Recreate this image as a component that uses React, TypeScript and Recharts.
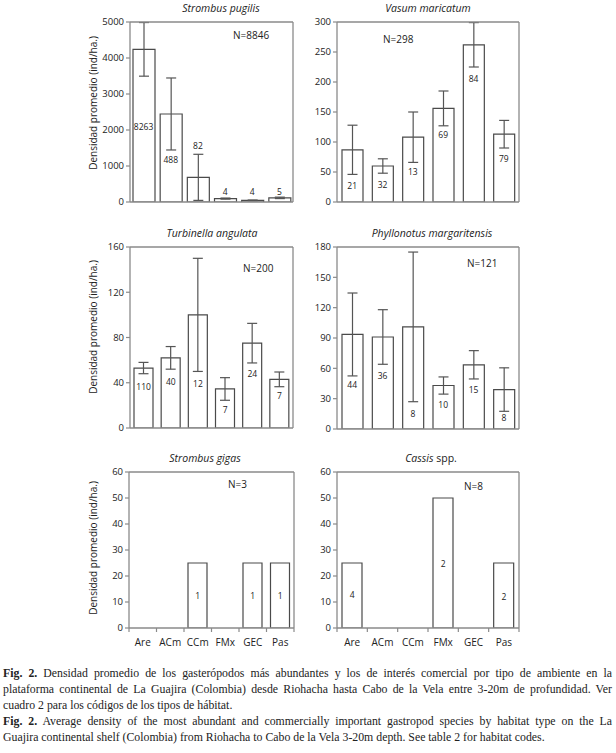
import React from 'react'
import { ComposedChart, Bar, ErrorBar, Scatter, XAxis, YAxis } from 'recharts'

const habitats = ['Are', 'ACm', 'CCm', 'FMx', 'GEC', 'Pas']

// Strombus pugilis
const pugilisMean = [4240, 2445, 685, 95, 45, 115]
const pugilisErr = [745, 1000, 640, 15, 10, 20]
const pugilisN = [8263, 488, 82, 4, 4, 5]
const pugilisLabelAt = [2085, 1190, 1560, 290, 290, 290]
const pugilisTicks = [0, 1000, 2000, 3000, 4000, 5000]

// Vasum maricatum
const vasumMean = [87, 60, 108, 156, 262, 113]
const vasumErr = [41, 12, 42, 29, 37, 23]
const vasumN = [21, 32, 13, 69, 84, 79]
const vasumLabelAt = [27, 30, 51, 113, 206, 73]
const vasumTicks = [0, 50, 100, 150, 200, 250, 300]

// Turbinella angulata
const turbinellaMean = [53, 62, 100, 34.5, 75, 43]
const turbinellaErr = [5, 10, 50, 10, 17.5, 6.5]
const turbinellaN = [110, 40, 12, 7, 24, 7]
const turbinellaLabelAt = [37, 41, 39, 16, 48.5, 29]
const turbinellaTicks = [0, 40, 80, 120, 160]

// Phyllonotus margaritensis
const phyllonotusMean = [93.5, 91, 101, 43, 63.5, 39]
const phyllonotusErr = [41, 27, 74, 8.5, 14, 21.5]
const phyllonotusN = [44, 36, 8, 10, 15, 8]
const phyllonotusLabelAt = [44, 53, 15.5, 24.5, 39, 11.5]
const phyllonotusTicks = [0, 30, 60, 90, 120, 150, 180]

// Strombus gigas
const gigasMean = [null, null, 25, null, 25, 25]
const gigasN = [null, null, 1, null, 1, 1]
const gigasLabelAt = [null, null, 12.4, null, 12.4, 12.4]

// Cassis spp.
const cassisMean = [25, null, null, 50, null, 25]
const cassisN = [4, null, null, 2, null, 2]
const cassisLabelAt = [13, null, null, 24.8, null, 12.2]

const sixtyTicks = [0, 10, 20, 30, 40, 50, 60]

const frame = '#8a8a8a'
const barLine = '#4a4a4a'
const sans = '"Open Sans", "Liberation Sans", sans-serif'

type Row = { cat: string; mean: number | null; err?: number; n: number | null; labelAt: number | null }

function buildRows(mean: (number | null)[], n: (number | null)[], labelAt: (number | null)[], err?: number[]): Row[] {
  return habitats.map((cat, i) => ({ cat, mean: mean[i], err: err ? err[i] : undefined, n: n[i], labelAt: labelAt[i] }))
}

function CountLabel(props: any) {
  const { cx, cy, payload } = props
  if (payload == null || payload.n == null || !isFinite(cy)) return <g />
  return (
    <text x={cx} y={cy} textAnchor="middle" dominantBaseline="central" fontSize={8.5} fill="#222" fontFamily={sans}>
      {payload.n}
    </text>
  )
}

function HabitatTick(props: any) {
  const { x, y, payload, index, band } = props
  const last = index === habitats.length - 1
  return (
    <g>
      <line x1={x - band / 2} x2={x - band / 2} y1={y} y2={y + 4} stroke={frame} strokeWidth={1.2} />
      {last && <line x1={x + band / 2} x2={x + band / 2} y1={y} y2={y + 4} stroke={frame} strokeWidth={1.2} />}
      <text x={x} y={y + 14} textAnchor="middle" dominantBaseline="central" fontSize={10} fill="#222" fontFamily={sans}>
        {payload.value}
      </text>
    </g>
  )
}

interface PanelProps {
  rows: Row[]
  max: number
  ticks: number[]
  plot: { x: number; y: number; w: number; h: number }
  barSize: number
  showX?: boolean
  hasErr?: boolean
}

function Panel({ rows, max, ticks, plot, barSize, showX, hasErr }: PanelProps) {
  const yw = 40
  const m = 5
  const th = 1
  const rw = 1
  const bh = showX ? 22 : 1
  const left = plot.x - yw
  const top = plot.y - m - th
  const width = yw + plot.w + rw + m
  const height = m + th + plot.h + bh + m
  const band = plot.w / habitats.length

  return (
    <div style={{ position: 'absolute', left, top, width, height }}>
      <ComposedChart width={width} height={height} data={rows} margin={{ top: m, right: m, bottom: m, left: 0 }}>
        <XAxis
          dataKey="cat"
          height={bh}
          axisLine={{ stroke: frame, strokeWidth: 1.3 }}
          tickLine={false}
          tickSize={0}
          tickMargin={0}
          interval={0}
          tick={showX ? (p: any) => <HabitatTick {...p} band={band} /> : false}
        />
        <XAxis xAxisId="t" orientation="top" dataKey="cat" height={th} tick={false} tickLine={false} axisLine={{ stroke: frame, strokeWidth: 1.3 }} />
        <YAxis
          domain={[0, max]}
          ticks={ticks}
          interval={0}
          allowDataOverflow
          width={yw}
          tickSize={4}
          tickMargin={2}
          axisLine={{ stroke: frame, strokeWidth: 1.3 }}
          tickLine={{ stroke: frame, strokeWidth: 1.2 }}
          tick={{ fontSize: 9.5, fill: '#222', fontFamily: sans }}
        />
        <YAxis yAxisId="r" orientation="right" domain={[0, 1]} width={rw} tick={false} tickLine={false} axisLine={{ stroke: frame, strokeWidth: 1.3 }} />
        <Bar dataKey="mean" fill="#fff" stroke={barLine} strokeWidth={1.2} barSize={barSize} isAnimationActive={false}>
          {hasErr && <ErrorBar dataKey="err" width={5} stroke="#555" strokeWidth={1.2} direction="y" />}
        </Bar>
        <Scatter dataKey="labelAt" shape={CountLabel} isAnimationActive={false} />
      </ComposedChart>
    </div>
  )
}

const textAt = (x: number, y: number, size: number, italic = false): React.CSSProperties => ({
  position: 'absolute',
  left: x,
  top: y,
  transform: 'translate(-50%, -50%)',
  fontFamily: sans,
  fontSize: size,
  fontStyle: italic ? 'italic' : 'normal',
  color: '#222',
  whiteSpace: 'nowrap',
})

const nAt = (x: number, y: number): React.CSSProperties => ({
  position: 'absolute',
  left: x,
  top: y,
  transform: 'translateY(-50%)',
  fontFamily: sans,
  fontSize: 10,
  color: '#222',
  whiteSpace: 'nowrap',
})

function YLabel({ y }: { y: number }) {
  return (
    <div style={{ ...textAt(93, y, 10), transform: 'translate(-50%, -50%) rotate(-90deg)' }}>
      Densidad promedio (ind/ha.)
    </div>
  )
}

const capLine: React.CSSProperties = {
  whiteSpace: 'nowrap',
  textAlign: 'justify',
  textAlignLast: 'justify',
  height: 16,
}

export default function App() {
  return (
    <div style={{ position: 'absolute', left: 0, top: 0, width: 616, height: 753, background: '#fff', overflow: 'hidden' }}>
      <Panel rows={buildRows(pugilisMean, pugilisN, pugilisLabelAt, pugilisErr)} max={5000} ticks={pugilisTicks}
        plot={{ x: 130, y: 22, w: 163, h: 180 }} barSize={22} hasErr />
      <Panel rows={buildRows(vasumMean, vasumN, vasumLabelAt, vasumErr)} max={300} ticks={vasumTicks}
        plot={{ x: 337, y: 22, w: 182, h: 180 }} barSize={21} hasErr />
      <Panel rows={buildRows(turbinellaMean, turbinellaN, turbinellaLabelAt, turbinellaErr)} max={160} ticks={turbinellaTicks}
        plot={{ x: 130, y: 247, w: 163, h: 181 }} barSize={19} hasErr />
      <Panel rows={buildRows(phyllonotusMean, phyllonotusN, phyllonotusLabelAt, phyllonotusErr)} max={180} ticks={phyllonotusTicks}
        plot={{ x: 337, y: 247, w: 182, h: 182 }} barSize={21} hasErr />
      <Panel rows={buildRows(gigasMean, gigasN, gigasLabelAt)} max={60} ticks={sixtyTicks}
        plot={{ x: 129, y: 472, w: 165, h: 156 }} barSize={19} showX />
      <Panel rows={buildRows(cassisMean, cassisN, cassisLabelAt)} max={60} ticks={sixtyTicks}
        plot={{ x: 337, y: 472, w: 182, h: 156 }} barSize={20} showX />

      <div style={textAt(221, 8, 10.5, true)}>Strombus pugilis</div>
      <div style={textAt(428, 8, 10.5, true)}>Vasum maricatum</div>
      <div style={textAt(212, 233, 10.5, true)}>Turbinella angulata</div>
      <div style={textAt(432, 233, 10.5, true)}>Phyllonotus margaritensis</div>
      <div style={textAt(205, 458, 10.5, true)}>Strombus gigas</div>
      <div style={textAt(431, 458, 10.5)}><i>Cassis</i> spp.</div>

      <div style={nAt(233, 35)}>N=8846</div>
      <div style={nAt(383, 39)}>N=298</div>
      <div style={nAt(243, 268)}>N=200</div>
      <div style={nAt(467, 263)}>N=121</div>
      <div style={nAt(228, 484)}>N=3</div>
      <div style={nAt(464, 486)}>N=8</div>

      <YLabel y={103} />
      <YLabel y={327} />
      <YLabel y={548} />

      <div style={{ position: 'absolute', left: 3, top: 665, width: 609, fontFamily: '"Liberation Serif", "Times New Roman", serif', fontSize: 11.8, lineHeight: '16px', color: '#222' }}>
        <div style={capLine}><b>Fig. 2.</b> Densidad promedio de los gasterópodos más abundantes y los de interés comercial por tipo de ambiente en la</div>
        <div style={capLine}>plataforma continental de La Guajira (Colombia) desde Riohacha hasta Cabo de la Vela entre 3-20m de profundidad. Ver</div>
        <div style={{ ...capLine, textAlignLast: 'left' }}>cuadro 2 para los códigos de los tipos de hábitat.</div>
        <div style={capLine}><b>Fig. 2.</b> Average density of the most abundant and commercially important gastropod species by habitat type on the La</div>
        <div style={{ ...capLine, textAlignLast: 'left' }}>Guajira continental shelf (Colombia) from Riohacha to Cabo de la Vela 3-20m depth. See table 2 for habitat codes.</div>
      </div>
    </div>
  )
}
